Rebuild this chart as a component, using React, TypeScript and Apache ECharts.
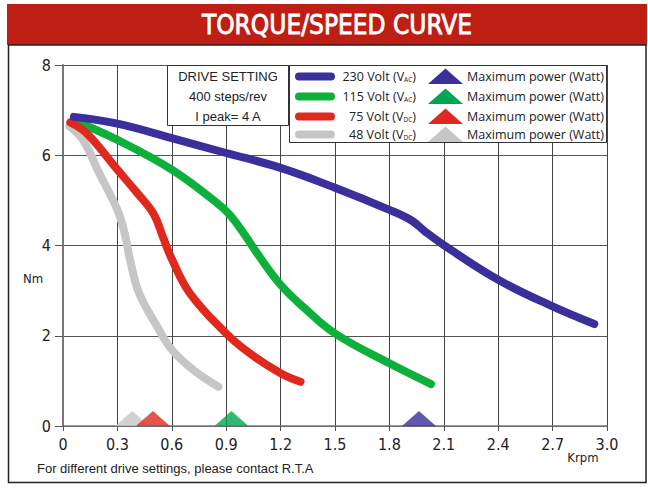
import React, { useEffect, useRef } from "react";
import * as echarts from "echarts";

const xTicks = [0, 0.3, 0.6, 0.9, 1.2, 1.5, 1.8, 2.1, 2.4, 2.7, 3.0];
const yTicks = [0, 2, 4, 6, 8];

const seriesNames = ["230 Volt", "115 Volt", "75 Volt", "48 Volt"];
const seriesSubs = ["AC", "AC", "DC", "DC"];
const lineColors = ["#3A2F9B", "#0DB03A", "#E0291E", "#C6C6C6"];
const triColors = ["#3A2F9B", "#00A651", "#E0291E", "#C6C6C6"];

const curve230: [number, number][] = [
  [0.06, 6.85], [0.3, 6.7], [0.6, 6.38], [0.9, 6.05], [1.2, 5.72], [1.5, 5.28],
  [1.8, 4.79], [1.92, 4.56], [2.0, 4.3], [2.1, 4.01], [2.4, 3.24], [2.7, 2.65], [2.93, 2.26],
];
const curve115: [number, number][] = [
  [0.06, 6.77], [0.3, 6.34], [0.6, 5.68], [0.85, 4.94], [0.92, 4.68], [1.0, 4.25],
  [1.07, 3.83], [1.2, 3.13], [1.33, 2.62], [1.5, 2.05], [1.8, 1.39], [2.03, 0.93],
];
const curve75: [number, number][] = [
  [0.04, 6.73], [0.13, 6.49], [0.3, 5.68], [0.41, 5.16], [0.5, 4.7], [0.55, 4.2],
  [0.6, 3.7], [0.7, 2.94], [0.9, 2.05], [1.03, 1.61], [1.2, 1.17], [1.31, 0.98],
];
const curve48: [number, number][] = [
  [0.035, 6.64], [0.11, 6.34], [0.2, 5.6], [0.3, 4.79], [0.34, 4.27], [0.37, 3.68],
  [0.42, 2.94], [0.52, 2.2], [0.6, 1.69], [0.72, 1.24], [0.857, 0.87],
];
const curves = [curve230, curve115, curve75, curve48];

// speed (Krpm) at maximum power for each supply
const maxPowerX = [1.963, 0.929, 0.496, 0.382];

const driveLines = ["DRIVE SETTING", "400 steps/rev", "I peak= 4 A"];
const legendPowerText = "Maximum power (Watt)";
const footerText = "For different drive settings, please contact R.T.A";
const titleText = "TORQUE/SPEED CURVE";

const NARROW = "'Liberation Sans Narrow', 'Arial Narrow', 'DejaVu Sans Condensed', sans-serif";
const ARIAL = "'Liberation Sans', Arial, sans-serif";
const LEG = "'Open Sans', 'DejaVu Sans', sans-serif";

export default function App() {
  const ref = useRef<HTMLDivElement>(null);
  useEffect(() => {
    document.body.style.margin = "0";
    const chart = echarts.init(ref.current!, null, { renderer: "svg" });

    const lineOrder = [3, 1, 2, 0];
    const lineSeries = lineOrder.map((i) => ({
      type: "line",
      name: seriesNames[i],
      data: curves[i],
      showSymbol: false,
      smooth: 0.4,
      lineStyle: { color: lineColors[i], width: 8, cap: "round", join: "round" },
      z: 3,
    }));
    const triOrder = [3, 2, 1, 0];
    const triSeries = triOrder.map((i) => ({
      type: "scatter",
      name: "max " + seriesNames[i],
      data: [[maxPowerX[i], 0]],
      symbol: "triangle",
      symbolSize: [34, 15],
      symbolOffset: [0, "-50%"],
      itemStyle: { color: triColors[i] },
      clip: false,
      z: 4,
    }));

    const legendRows = [76.5, 96.5, 116.5, 134.5];
    const legendGraphics: any[] = [];
    legendRows.forEach((y, i) => {
      legendGraphics.push({
        type: "line",
        shape: { x1: 299, y1: y, x2: 331, y2: y },
        style: { stroke: lineColors[i], lineWidth: 8, lineCap: "round" },
        z: 101,
      });
      legendGraphics.push({
        type: "text",
        x: 416,
        y: y,
        style: {
          text: `${seriesNames[i]} (V{s|${seriesSubs[i]}})`,
          align: "right",
          verticalAlign: "middle",
          font: `12.5px ${LEG}`,
          fill: "#222",
          rich: {
            s: { fontSize: 6.5, fontFamily: LEG, fill: "#222", verticalAlign: "bottom", lineHeight: 10 },
          },
        },
        z: 101,
      });
      legendGraphics.push({
        type: "polygon",
        shape: { points: [[428, y + 7.5], [445.5, y - 8], [463, y + 7.5]] },
        style: { fill: triColors[i] },
        z: 101,
      });
      legendGraphics.push({
        type: "text",
        x: 467,
        y: y,
        style: {
          text: legendPowerText,
          align: "left",
          verticalAlign: "middle",
          font: `12.5px ${LEG}`,
          fill: "#222",
        },
        z: 101,
      });
    });

    const option: any = {
      animation: false,
      backgroundColor: "#fff",
      grid: { left: 63, right: 41, top: 65, bottom: 62, containLabel: false },
      xAxis: {
        type: "value",
        min: 0,
        max: 3,
        interval: 0.3,
        axisLine: { show: true, lineStyle: { color: "#777", width: 1.5 } },
        axisTick: { show: true, length: 5, lineStyle: { color: "#555" } },
        splitLine: { show: true, lineStyle: { color: "#444", width: 1 } },
        axisLabel: {
          margin: 10,
          color: "#222",
          fontFamily: NARROW,
          fontSize: 16,
          formatter: (v: number) => (Math.abs(v) < 1e-9 ? "0" : v.toFixed(1)),
        },
      },
      yAxis: {
        type: "value",
        min: 0,
        max: 8,
        interval: 2,
        axisLine: { show: true, lineStyle: { color: "#777", width: 2 } },
        axisTick: { show: true, length: 8, lineStyle: { color: "#555" } },
        splitLine: { show: true, lineStyle: { color: "#555", width: 1 } },
        axisLabel: {
          margin: 12,
          color: "#222",
          fontFamily: NARROW,
          fontSize: 16,
          formatter: (v: number) => String(Math.round(v)),
        },
      },
      series: [...lineSeries, ...triSeries],
      graphic: [
        {
          type: "rect",
          shape: { x: 7, y: 4, width: 640, height: 41 },
          style: { fill: "#BE1E14" },
          z: 100,
        },
        {
          type: "text",
          x: 337,
          y: 25,
          style: {
            text: titleText,
            align: "center",
            verticalAlign: "middle",
            font: `26px 'DejaVu Sans Condensed', sans-serif`,
            fill: "#fff",
            stroke: "#fff",
            lineWidth: 0.8,
          },
          z: 101,
        },
        {
          type: "rect",
          shape: { x: 8.5, y: 45, width: 637.5, height: 437.5 },
          style: { fill: "none", stroke: "#222", lineWidth: 1.5 },
          z: 100,
        },
        {
          type: "rect",
          shape: { x: 167.5, y: 65.5, width: 121, height: 60 },
          style: { fill: "#fff", stroke: "#333", lineWidth: 1 },
          z: 100,
        },
        ...driveLines.map((t, i) => ({
          type: "text",
          x: 228,
          y: 76 + i * 20,
          style: { text: t, align: "center", verticalAlign: "middle", font: `13px ${ARIAL}`, fill: "#222" },
          z: 101,
        })),
        {
          type: "rect",
          shape: { x: 289.5, y: 65.5, width: 317, height: 77 },
          style: { fill: "#fff", stroke: "#333", lineWidth: 1 },
          z: 100,
        },
        ...legendGraphics,
        {
          type: "text",
          x: 33,
          y: 278,
          style: { text: "Nm", align: "center", verticalAlign: "middle", font: `13px ${NARROW}`, fill: "#222" },
          z: 101,
        },
        {
          type: "text",
          x: 583,
          y: 457,
          style: { text: "Krpm", align: "center", verticalAlign: "middle", font: `13px ${NARROW}`, fill: "#222" },
          z: 101,
        },
        {
          type: "text",
          x: 37,
          y: 468,
          style: { text: footerText, align: "left", verticalAlign: "middle", font: `13px ${ARIAL}`, fill: "#222" },
          z: 101,
        },
      ],
    };
    chart.setOption(option);
    return () => chart.dispose();
  }, []);
  return <div ref={ref} style={{ width: 648, height: 488 }} />;
}
